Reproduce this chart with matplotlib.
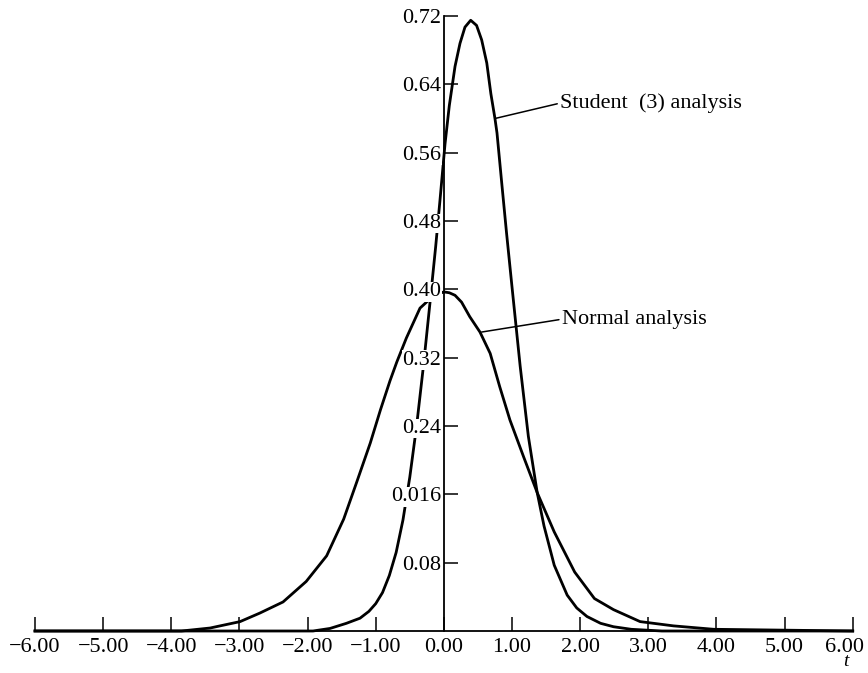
import numpy as np
import matplotlib.pyplot as plt
from matplotlib import transforms

plt.rcParams['font.family'] = ['Liberation Serif', 'DejaVu Serif']

# t values and densities
student_t = [-6.0, -3.0, -2.2, -1.92, -1.67, -1.43, -1.23, -1.1, -1.0, -0.9,
             -0.8, -0.7, -0.6, -0.5, -0.4, -0.3, -0.2, -0.12, -0.056, 0.017,
             0.08, 0.164, 0.237, 0.31, 0.394, 0.48, 0.555, 0.63, 0.69, 0.75,
             0.78, 0.85, 0.92, 1.0, 1.12, 1.24, 1.37, 1.47, 1.62, 1.81,
             1.95, 2.10, 2.3, 2.49, 2.75, 3.2, 6.0]
student_p = [0.0, 0.0, 0.0, 0.0, 0.003, 0.009, 0.015, 0.023, 0.032, 0.045,
             0.065, 0.092, 0.130, 0.180, 0.240, 0.310, 0.387, 0.450, 0.505, 0.570,
             0.615, 0.661, 0.688, 0.707, 0.715, 0.709, 0.692, 0.665, 0.629, 0.600,
             0.583, 0.524, 0.466, 0.403, 0.310, 0.228, 0.162, 0.123, 0.077, 0.042,
             0.027, 0.017, 0.009, 0.005, 0.002, 0.0, 0.0]

normal_t = [-6.0, -3.85, -3.43, -2.99, -2.70, -2.36, -2.02, -1.72, -1.47, -1.28,
            -1.08, -0.93, -0.79, -0.69, -0.55, -0.35, -0.2, -0.1, 0.0, 0.08,
            0.164, 0.26, 0.38, 0.53, 0.68, 0.82, 0.97, 1.17, 1.37, 1.62,
            1.92, 2.21, 2.49, 2.88, 3.37, 3.96, 6.0]
normal_p = [0.0, 0.0, 0.0035, 0.011, 0.021, 0.034, 0.058, 0.088, 0.131, 0.174,
            0.220, 0.259, 0.293, 0.315, 0.343, 0.378, 0.389, 0.394, 0.397, 0.396,
            0.393, 0.385, 0.368, 0.350, 0.325, 0.286, 0.247, 0.204, 0.162, 0.116,
            0.069, 0.038, 0.025, 0.011, 0.006, 0.002, 0.0]

xticks = [-6, -5, -4, -3, -2, -1, 0, 1, 2, 3, 4, 5, 6]
xlabels = ['\u22126.00', '\u22125.00', '\u22124.00', '\u22123.00', '\u22122.00', '\u22121.00',
           '0.00', '1.00', '2.00', '3.00', '4.00', '5.00', '6.00']
yticks = [0.08, 0.16, 0.24, 0.32, 0.40, 0.48, 0.56, 0.64, 0.72]
ylabels = ['0.08', '0.016', '0.24', '0.32', '0.40', '0.48', '0.56', '0.64', '0.72']

fig = plt.figure(figsize=(8.68, 6.73), dpi=100)
ax = fig.add_axes([35 / 868, 42 / 673, 817.7 / 868, 615 / 673])

ax.plot(student_t, student_p, color='black', lw=2.0, solid_joinstyle='round',
        clip_on=False, zorder=1)
ax.plot(normal_t, normal_p, color='black', lw=2.0, solid_joinstyle='round',
        clip_on=False, zorder=1)

ax.set_xlim(-6, 6)
ax.set_ylim(0, 0.72)

for s in ['top', 'right']:
    ax.spines[s].set_visible(False)
ax.spines['left'].set_position(('data', 0))
ax.spines['left'].set_linewidth(1.3)
ax.spines['bottom'].set_linewidth(1.3)

ax.set_xticks(xticks, xlabels)
ax.set_yticks(yticks, ylabels)
ax.tick_params(axis='x', direction='in', length=10, width=1.1, pad=5, labelsize=16)
ax.tick_params(axis='y', direction='in', length=10, width=1.1, pad=2, labelsize=16)

ax.annotate('Student  (3) analysis', xy=(0.75, 0.600), xytext=(1.705, 0.618),
            va='center', ha='left', fontsize=16,
            arrowprops=dict(arrowstyle='-', lw=1.1, color='black', relpos=(0, 0.5),
                            shrinkA=0, shrinkB=0))
ax.annotate('Normal analysis', xy=(0.555, 0.350), xytext=(1.73, 0.365),
            va='center', ha='left', fontsize=16,
            arrowprops=dict(arrowstyle='-', lw=1.1, color='black', relpos=(0, 0.5),
                            shrinkA=0, shrinkB=0))

ax.text(5.9, -0.036, 't', style='italic', fontsize=14, ha='center', va='center')

# labels on the y axis break the curves where they cross them
fig.canvas.draw()
for lab in ax.yaxis.get_ticklabels():
    lab.set_bbox(dict(facecolor='white', edgecolor='none', pad=0.3))
last = ax.xaxis.get_ticklabels()[-1]
last.set_transform(last.get_transform() +
                   transforms.ScaledTranslation(-0.08, 0, fig.dpi_scale_trans))

fig.savefig('out.png', dpi=100)
